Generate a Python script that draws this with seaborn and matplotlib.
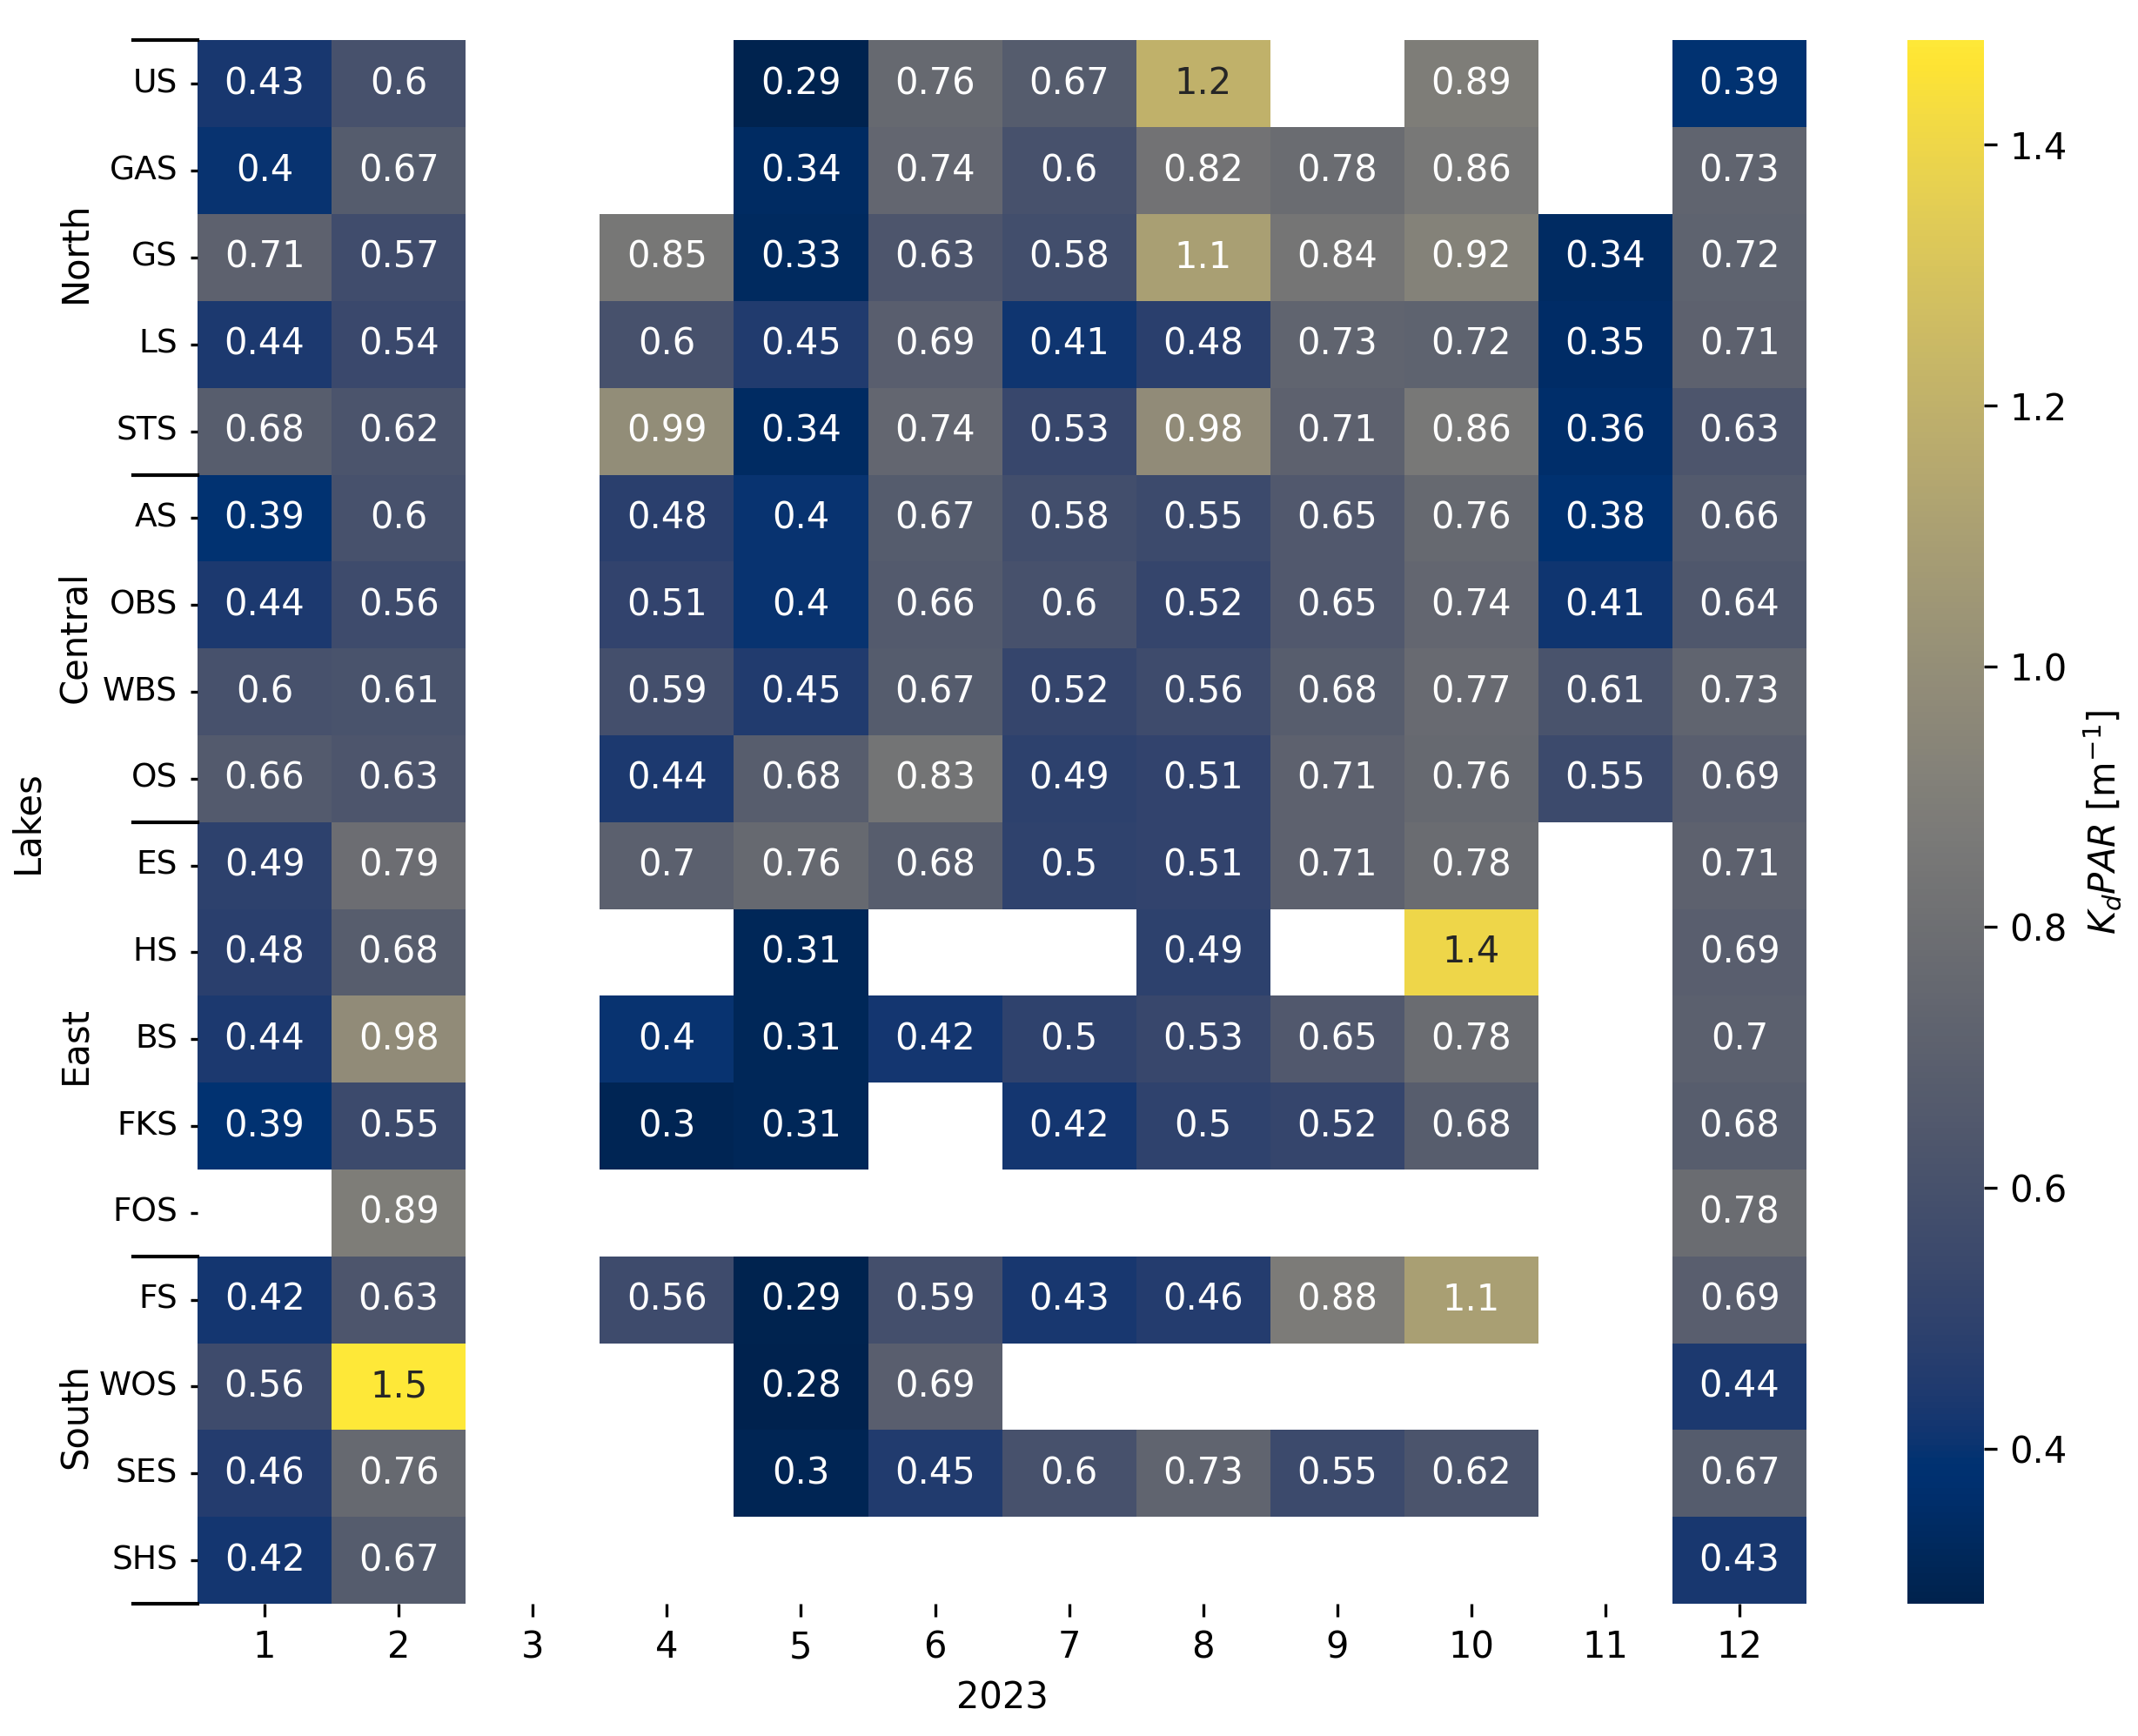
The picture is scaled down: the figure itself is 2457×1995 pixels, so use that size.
import numpy as np
import pandas as pd
import matplotlib
matplotlib.use("Agg")
import matplotlib.pyplot as plt
import matplotlib.transforms as mtransforms
import seaborn as sns

nan = np.nan

months = list(range(1, 13))
lakes = ["US", "GAS", "GS", "LS", "STS",
         "AS", "OBS", "WBS", "OS",
         "ES", "HS", "BS", "FKS", "FOS",
         "FS", "WOS", "SES", "SHS"]

# regions and how many lakes each one holds (in row order)
regions = ["North", "Central", "East", "South"]
region_sizes = [5, 4, 5, 4]

US  = [0.43, 0.6, nan, nan, 0.29, 0.76, 0.67, 1.2, nan, 0.89, nan, 0.39]
GAS = [0.4, 0.67, nan, nan, 0.34, 0.74, 0.6, 0.82, 0.78, 0.86, nan, 0.73]
GS  = [0.71, 0.57, nan, 0.85, 0.33, 0.63, 0.58, 1.1, 0.84, 0.92, 0.34, 0.72]
LS  = [0.44, 0.54, nan, 0.6, 0.45, 0.69, 0.41, 0.48, 0.73, 0.72, 0.35, 0.71]
STS = [0.68, 0.62, nan, 0.99, 0.34, 0.74, 0.53, 0.98, 0.71, 0.86, 0.36, 0.63]
AS  = [0.39, 0.6, nan, 0.48, 0.4, 0.67, 0.58, 0.55, 0.65, 0.76, 0.38, 0.66]
OBS = [0.44, 0.56, nan, 0.51, 0.4, 0.66, 0.6, 0.52, 0.65, 0.74, 0.41, 0.64]
WBS = [0.6, 0.61, nan, 0.59, 0.45, 0.67, 0.52, 0.56, 0.68, 0.77, 0.61, 0.73]
OS  = [0.66, 0.63, nan, 0.44, 0.68, 0.83, 0.49, 0.51, 0.71, 0.76, 0.55, 0.69]
ES  = [0.49, 0.79, nan, 0.7, 0.76, 0.68, 0.5, 0.51, 0.71, 0.78, nan, 0.71]
HS  = [0.48, 0.68, nan, nan, 0.31, nan, nan, 0.49, nan, 1.4, nan, 0.69]
BS  = [0.44, 0.98, nan, 0.4, 0.31, 0.42, 0.5, 0.53, 0.65, 0.78, nan, 0.7]
FKS = [0.39, 0.55, nan, 0.3, 0.31, nan, 0.42, 0.5, 0.52, 0.68, nan, 0.68]
FOS = [nan, 0.89, nan, nan, nan, nan, nan, nan, nan, nan, nan, 0.78]
FS  = [0.42, 0.63, nan, 0.56, 0.29, 0.59, 0.43, 0.46, 0.88, 1.1, nan, 0.69]
WOS = [0.56, 1.48, nan, nan, 0.281, 0.69, nan, nan, nan, nan, nan, 0.44]
SES = [0.46, 0.76, nan, nan, 0.3, 0.45, 0.6, 0.73, 0.55, 0.62, nan, 0.67]
SHS = [0.42, 0.67, nan, nan, nan, nan, nan, nan, nan, nan, nan, 0.43]

rows = [US, GAS, GS, LS, STS, AS, OBS, WBS, OS,
        ES, HS, BS, FKS, FOS, FS, WOS, SES, SHS]
df = pd.DataFrame(rows, index=lakes, columns=months)

fig = plt.figure(figsize=(8.19, 6.65), dpi=300)
ax = fig.add_axes([0.0924, 0.0762, 0.7526, 0.9005])
cax = fig.add_axes([0.892, 0.0762, 0.036, 0.9005])

sns.heatmap(df, ax=ax, cbar_ax=cax, cmap="cividis", annot=True, fmt=".2g",
            cbar_kws={"label": r"$K_dPAR$ [m$^{-1}$]"})

ax.set_xlabel("2023")
ax.set_ylabel("Lakes")
ax.yaxis.set_label_coords(-0.0946, 0.5)
ax.tick_params(axis="y", rotation=0, labelsize=9, length=2)

# region separators and labels
trans = mtransforms.blended_transform_factory(ax.transAxes, ax.transData)
edges = np.concatenate([[0], np.cumsum(region_sizes)])
for y in edges:
    ax.plot([-0.04, 0], [y, y], color="black", lw=1, transform=trans,
            clip_on=False)
# label spots, nudged a little from the exact group middles like the original
nudge = [-0.06, -0.13, 0.07, -0.16]
for name, a, b, dy in zip(regions, edges[:-1], edges[1:], nudge):
    ax.text(-0.076, (a + b) / 2 + dy, name, transform=trans, rotation=90,
            ha="center", va="center", fontsize=10)

fig.savefig("out.png", dpi=300)
plt.close(fig)
